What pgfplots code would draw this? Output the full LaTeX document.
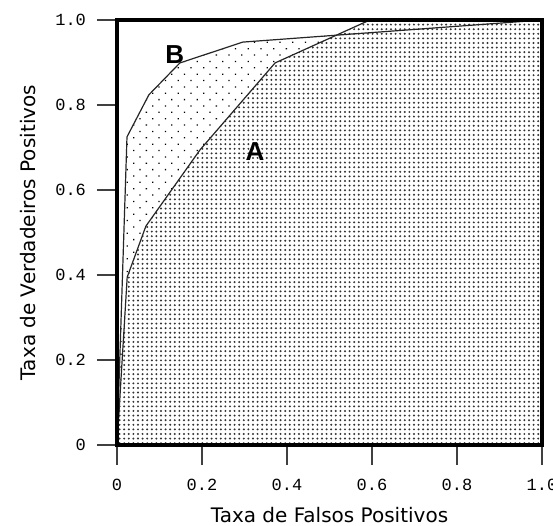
\documentclass[border=0pt]{standalone}
\usepackage{fontspec}
\setmainfont{DejaVu Sans}
\newfontfamily\tickfont{Liberation Mono}
\newfontfamily\letterfont{Liberation Sans}
\usepackage{pgfplots}
\pgfplotsset{compat=1.18}
\usetikzlibrary{patterns.meta}

% ROC points
\pgfplotstableread{
x y
0 0
0.024 0.395
0.068 0.515
0.195 0.694
0.372 0.899
0.595 1.0
1.0 1.0
}\rocA
\pgfplotstableread{
x y
0 0
0.0235 0.725
0.075 0.824
0.148 0.899
0.296 0.948
1.0 1.0
}\rocB

\begin{document}
\begin{tikzpicture}
\useasboundingbox (-58.5pt,-40.5pt) rectangle (218pt,222.5pt);
\begin{axis}[
  at={(0,0)}, anchor=south west,
  width=212.5pt, height=212.5pt, scale only axis,
  xmin=0, xmax=1, ymin=0, ymax=1,
  axis on top,
  axis line style={line width=2pt},
  tick align=outside, tick pos=left,
  major tick length=10pt,
  tick style={line width=0.8pt, black!75},
  xtick={0,0.2,0.4,0.6,0.8,1.0},
  xticklabels={0,0.2,0.4,0.6,0.8,1.0},
  ytick={0,0.2,0.4,0.6,0.8,1.0},
  yticklabels={0,0.2,0.4,0.6,0.8,1.0},
  ticklabel style={font=\tickfont\fontsize{8.5}{10}\selectfont},
  xticklabel style={anchor=center, yshift=-10pt},
  yticklabel style={anchor=east, xshift=-2pt},
  xlabel={Taxa de Falsos Positivos},
  ylabel={Taxa de Verdadeiros Positivos},
  label style={font=\fontsize{11.3}{13}\selectfont},
  every axis x label/.style={at={(axis description cs:0.5,-0.1647)}, anchor=center},
  every axis y label/.style={at={(axis description cs:-0.2094,0.5)}, rotate=90, anchor=center},
]
\addplot[draw=none, pattern={Dots[distance=4.5pt, radius=0.45pt, angle=45]}, pattern color=black]
  table {\rocB} \closedcycle;
\addplot[draw=none, fill=white, postaction={pattern={Dots[distance=2.3pt, radius=0.55pt]}, pattern color=black!80}]
  table {\rocA} \closedcycle;
\addplot[line width=0.6pt, black!85] table {\rocB};
\addplot[line width=0.6pt, black!85] table {\rocA};
\node[font=\letterfont\bfseries\fontsize{13}{13}\selectfont] at (axis cs:0.325,0.69) {A};
\node[font=\letterfont\bfseries\fontsize{13}{13}\selectfont] at (axis cs:0.136,0.918) {B};
\end{axis}
\end{tikzpicture}
\end{document}
